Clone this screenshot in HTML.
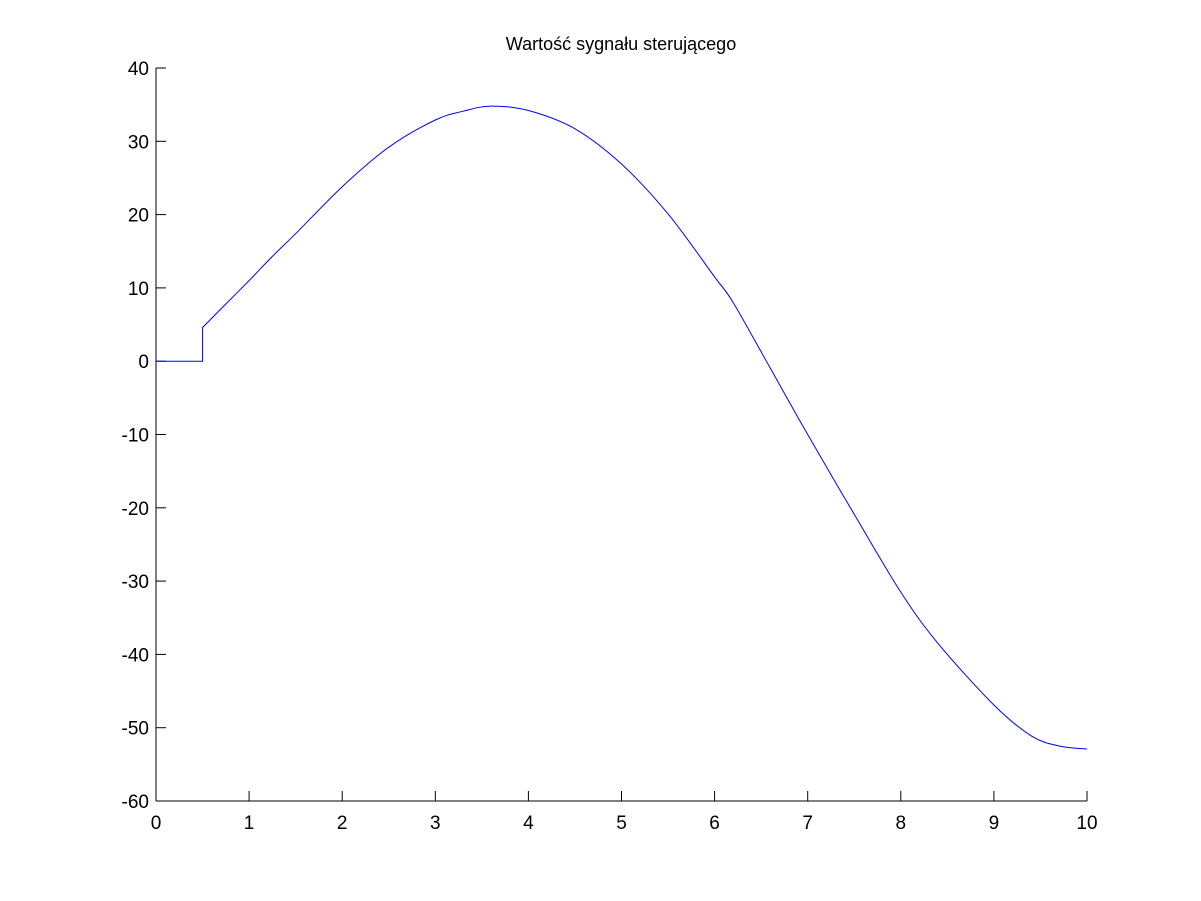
<!DOCTYPE html>
<html><head><meta charset="utf-8"><style>
html,body{margin:0;padding:0;background:#fff;}
svg{display:block;font-family:"Liberation Sans",Arial,sans-serif;}
</style></head><body>
<svg id="chart" width="1201" height="901">
<rect width="1201" height="901" fill="#fff"/>
<text x="621" y="50" font-size="18" text-anchor="middle">Wartość sygnału sterującego</text>
<g id="axes"></g>
<path id="line" fill="none" stroke="#0000ff" stroke-width="1"/>
</svg>
<script>
const xs = [0, 0.5, 0.5, 0.75, 1, 1.25, 1.5, 2, 2.5, 3, 3.3, 3.6, 4, 4.5, 5, 5.5, 6, 6.2, 6.6, 7, 7.5, 8, 8.4, 9, 9.4, 9.7, 10];
const ys = [0, 0, 4.6, 7.8, 11.0, 14.3, 17.4, 23.8, 29.2, 32.9, 34.1, 34.8, 34.2, 31.7, 26.9, 20.1, 11.5, 8.0, -1, -10, -20.9, -31.5, -38.5, -46.9, -51.1, -52.5, -52.9];
const xTicks = [0,1,2,3,4,5,6,7,8,9,10];
const yTicks = [40,30,20,10,0,-10,-20,-30,-40,-50,-60];
const X0=156,X1=1087,Y0=801,Y1=68,xmin=0,xmax=10,ymin=-60,ymax=40;
const sx=v=>X0+(v-xmin)/(xmax-xmin)*(X1-X0);
const sy=v=>Y0-(v-ymin)/(ymax-ymin)*(Y0-Y1);
const NS="http://www.w3.org/2000/svg";
const ax=document.getElementById('axes');
function mk(t,a){const e=document.createElementNS(NS,t);for(const k in a)e.setAttribute(k,a[k]);ax.appendChild(e);return e;}
let e=mk('line',{x1:X0,y1:Y0,x2:X1,y2:Y0,stroke:'#000'});


e=mk('line',{x1:X0,y1:Y0,x2:X0,y2:Y1,stroke:'#000'});


xTicks.forEach(v=>{const x=sx(v);
 let t=mk('line',{x1:x,y1:Y0,x2:x,y2:Y0-10,stroke:'#000'});
 
 
 let l=mk('text',{x:x,y:Y0+28,'font-size':19,'text-anchor':'middle'});l.textContent=v;
 
 
});
yTicks.forEach(v=>{const y=sy(v);
 let t=mk('line',{x1:X0,y1:y,x2:X0+10,y2:y,stroke:'#000'});
 
 
 let l=mk('text',{x:X0-7,y:y+7,'font-size':19,'text-anchor':'end'});l.textContent=v;
 
 
});
const P=xs.map((v,i)=>[sx(v),sy(ys[i])]);
let d='M'+P[0][0].toFixed(1)+','+P[0][1].toFixed(1);
for(let i=0;i<P.length-1;i++){
  const p1=P[i],p2=P[i+1];
  if(i<2||p1[0]===p2[0]){d+='L'+p2[0].toFixed(1)+','+p2[1].toFixed(1);continue;}
  const p0=(i>2)?P[i-1]:p1, p3=P[i+2]||p2;
  const c1=[p1[0]+(p2[0]-p0[0])/6,p1[1]+(p2[1]-p0[1])/6];
  const c2=[p2[0]-(p3[0]-p1[0])/6,p2[1]-(p3[1]-p1[1])/6];
  d+='C'+c1.map(n=>n.toFixed(1)).join(',')+' '+c2.map(n=>n.toFixed(1)).join(',')+' '+p2[0].toFixed(1)+','+p2[1].toFixed(1);
}
document.getElementById('line').setAttribute('d',d);
</script>
</body></html>
